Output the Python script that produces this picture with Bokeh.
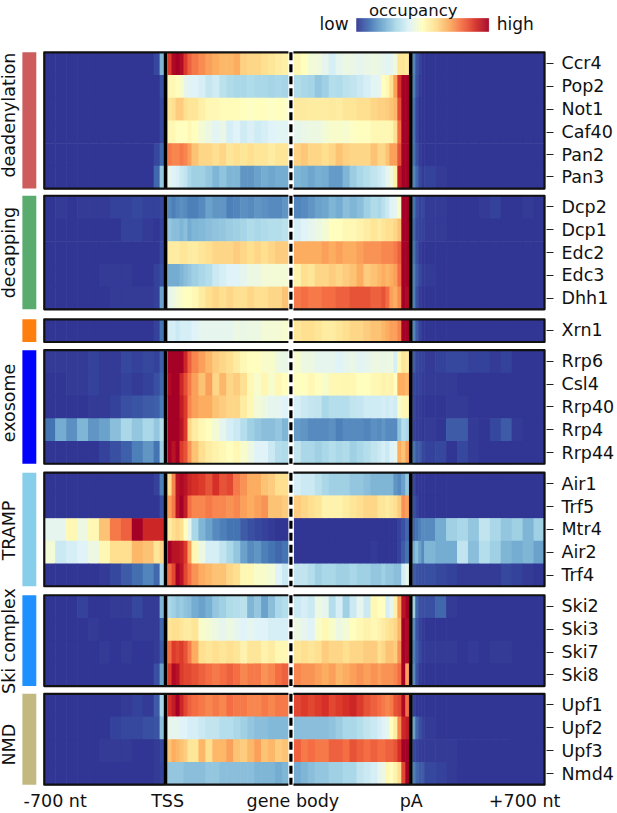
import numpy as np
from bokeh.core.properties import value
from bokeh.embed import file_html
from bokeh.models import ColumnDataSource, FixedTicker, Range1d
from bokeh.plotting import figure
from bokeh.resources import INLINE
from bokeh.transform import linear_cmap

# occupancy per row: left flank, TSS side, pA side, right flank (0 low .. 100 high)
Ccr4 = ([0,0,0,0,0,0,0,0,0,0,3,22],[88,98,100,97,88,82,78,75,72,70,68,68,70,63,62,62,60,58,56,55],[53,50,46,45,42,38,42,44,43,42,43,44,43,42,41,42,45,58,58,57],[13,5,2])
Pop2 = ([0,0,0,0,0,0,0,0,0,0,0,4],[52,52,50,48,42,41,40,38,35,37,33,31,30,30,31,30,30,29,30,29],[31,30,29,26,28,32,31,33,34,36,38,41,42,50,52,60,72,90,100,100],[12,4,1])
Not1 = ([0,0,0,0,0,0,0,0,0,0,0,3],[58,60,64,64,60,58,58,55,52,52,51,51,51,50,49,50,50,49,50,49],[57,57,56,56,56,57,56,58,58,60,60,62,63,63,64,66,68,85,100,100],[10,3])
Caf40 = ([0,0,0,0,0,0,0,0,0,0,0,3],[52,52,50,50,50,52,50,46,44,41,43,38,40,37,39,37,38,40,41,41],[42,43,44,44,46,48,48,47,49,50,50,52,52,52,52,53,60,80,100,100],[10,3])
Pan2 = ([0,0,0,0,0,0,0,0,0,0,3,8],[78,76,76,78,76,72,66,62,62,60,62,58,60,58,60,58,58,56,58,58],[63,65,62,62,60,62,66,63,62,62,62,66,62,62,66,72,72,84,100,100],[10,4,1])
Pan3 = ([0,0,0,0,0,0,0,0,0,0,8,26],[42,40,39,36,34,30,28,28,26,22,25,22,22,16,16,18,20,19,20,20],[22,21,19,21,20,17,17,22,27,30,32,34,36,38,42,45,55,95,100,100],[13,8,3,1,2,1])
Dcp2 = ([0,1,0,1,1,1,2,2,3,2,2,3],[14,12,14,15,14,12,12,14,18,16,16,12,13,15,14,16,15,14,14,16],[13,14,16,18,19,22,20,24,22,24,28,31,30,33,36,40,42,48,100,100],[10,4,2,3,1,1,0,0,0,1,2,0,0,1,0])
Dcp1 = ([0,0,0,0,0,0,0,2,2,1,0,2],[26,24,24,22,24,20,22,23,24,25,26,27,28,29,31,30,31,32,32,33],[38,40,42,44,46,50,50,52,52,54,56,58,56,58,60,60,62,66,100,100],[8,3,2,2,1,1])
Edc2 = ([0,0,0,0,0,0,0,0,0,0,0,3],[56,56,56,58,58,56,56,58,60,62,62,62,64,62,60,62,60,62,64,64],[70,70,70,70,72,70,72,70,70,72,74,74,74,76,76,76,78,82,100,100],[10,4,1])
Edc3 = ([0,0,0,0,0,1,1,1,0,0,2,4],[20,20,20,22,24,26,28,30,32,36,38,40,40,42,44,44,46,46,46,46],[54,60,58,62,62,64,62,64,66,70,64,66,68,70,68,70,72,80,100,100],[12,6,3,1,1])
Dhh1 = ([0,0,0,0,0,0,1,1,1,1,2,18],[42,44,46,48,50,50,52,56,60,62,60,62,60,60,62,60,60,62,62,66],[78,80,78,78,80,80,82,82,84,84,84,82,82,84,80,72,70,75,100,98],[12,4,1])
Xrn1 = ([0,0,0,0,0,0,0,0,0,0,2,10],[38,38,36,38,38,38,40,42,42,42,42,42,44,43,44,44,46,46,46,47],[58,60,60,58,56,56,58,60,62,62,64,66,66,68,70,72,72,76,100,100],[13,6,2])
Rrp6 = ([1,1,1,1,2,1,1,3,2,3,2,7],[100,100,100,100,92,82,76,72,68,64,62,60,56,52,50,50,48,48,44,43],[47,44,44,42,42,42,40,42,43,41,42,44,44,43,44,44,38,52,58,56],[6,3,2,2,1,2,3,3,2,2,1,2])
Csl4 = ([0,0,1,1,2,1,1,2,1,2,4,8],[98,100,100,92,85,78,72,66,72,62,68,62,64,60,52,48,53,48,52,50],[50,50,52,50,48,52,52,53,52,50,50,52,52,54,53,54,50,70,70,68],[3,2,2,1,1,1,1])
Rrp40 = ([0,0,0,0,1,1,2,4,5,6,7,11],[100,100,100,94,88,76,72,70,70,66,64,62,62,56,52,46,44,42,42,40],[38,36,35,34,30,32,32,32,34,35,37,37,37,38,37,38,37,48,52,52],[3,1,1,0,0,0,1,1])
Rrp4 = ([10,20,15,22,16,18,24,30,26,30,26,32],[100,100,100,96,88,62,56,52,50,46,42,38,36,32,28,26,24,24,26,22],[17,16,14,14,14,15,12,14,14,14,13,15,14,16,14,14,14,25,32,30],[2,1,1,0,1,0,6,6,1,0,3,6,1,0,0])
Rrp44 = ([0,0,0,0,0,2,4,7,12,16,10,28],[100,96,100,88,84,74,66,60,56,54,52,50,52,48,44,40,40,36,32,31],[34,30,30,28,30,32,30,31,28,30,32,34,36,38,36,40,42,70,66,72],[10,6,6,3,2,3,0,3,1])
Air1 = ([0,0,0,0,0,0,0,0,0,0,2,12],[60,76,96,98,96,92,90,88,84,90,84,86,78,74,70,70,66,64,60,60],[38,36,36,33,30,28,28,28,26,26,24,22,22,22,22,22,16,14,18,26],[3])
Trf5 = ([0,0,0,0,0,0,0,0,0,0,0,4],[72,78,96,100,94,80,76,76,78,76,76,74,76,72,70,72,74,66,66,64],[64,62,60,58,54,54,54,56,58,60,62,62,58,58,56,58,60,64,74,72],[4,2])
Mtr4 = ([42,42,52,44,52,66,78,82,100,92,92,92],[56,60,62,60,50,42,30,22,18,14,12,10,10,6,4,3,2,1,0,0],[0,0,0,0,0,0,0,0,0,0,0,0,0,0,0,0,0,2,4,8],[8,10,12,14,14,20,28,30,26,34,30,26,28,22,28])
Air2 = ([46,36,38,40,44,52,60,60,68,66,58,62],[100,96,96,94,88,72,52,44,38,38,34,30,26,18,14,16,12,10,8,10],[0,0,0,0,0,0,0,0,0,0,0,1,0,0,0,0,0,2,6,10],[20,24,18,14,22,20,20,34,24,32,28,22,20,22,18])
Trf4 = ([0,0,0,0,0,1,3,6,9,13,8,30],[80,86,100,96,86,80,74,70,68,66,66,62,60,52,52,48,48,46,40,36],[34,34,32,28,30,30,28,28,30,28,28,26,26,28,26,26,24,24,38,42],[6,5,4,4,4,3,2,1,1,1,1,3,2,1,0])
Ski2 = ([0,0,0,2,0,0,1,1,3,1,1,22],[30,28,26,27,25,24,20,18,21,26,28,31,32,33,22,26,18,24,30,32],[36,38,36,44,42,32,38,28,36,42,36,52,50,50,38,42,55,72,96,100],[28,8,4,4,4,8,1])
Ski3 = ([0,0,0,0,1,0,0,0,1,1,1,8],[58,60,60,58,56,56,58,48,46,44,42,44,42,40,42,40,40,38,38,38],[44,42,40,48,52,48,44,46,50,52,54,52,54,56,58,60,62,68,100,98],[14,5,2,1])
Ski7 = ([0,0,0,0,0,1,0,1,0,0,1,6],[80,88,86,88,84,78,70,60,58,60,58,60,58,54,58,58,54,56,52,52],[58,60,58,60,64,62,62,60,62,62,64,64,60,62,66,66,64,74,100,98],[12,6,3,1,1,1,1,0,1,0,1,1])
Ski8 = ([0,0,0,0,0,0,0,0,0,0,4,18],[88,98,96,88,86,86,84,82,80,78,80,82,80,76,78,78,74,76,80,82],[76,74,74,72,70,72,68,70,72,74,72,74,72,74,74,74,76,80,100,72],[14,5,1])
Upf1 = ([0,0,0,0,0,0,0,1,2,1,6,30],[90,94,100,92,86,82,80,78,76,78,76,80,78,78,76,76,78,76,78,78],[86,88,86,88,90,86,88,90,92,88,84,82,80,78,76,78,84,86,98,80],[2])
Upf2 = ([0,0,0,0,0,0,2,3,3,4,5,24],[42,42,42,40,40,38,38,36,34,34,32,32,30,28,26,24,24,23,23,23],[24,24,24,24,24,25,27,30,30,32,34,36,38,40,42,50,56,75,92,94],[18,8,4,2,1])
Upf3 = ([0,0,0,0,0,1,1,1,0,0,1,3],[66,70,68,66,64,58,58,68,60,68,68,72,66,64,68,72,66,68,64,66],[82,78,80,78,78,82,82,80,84,82,80,82,80,80,82,82,84,90,100,100],[3,2,1,1,1,1,1])
Nmd4 = ([0,0,0,0,0,0,0,0,0,0,1,2],[26,26,26,26,24,24,24,24,26,26,24,24,24,24,24,22,22,22,20,22],[20,22,24,26,26,28,28,30,30,34,36,38,42,44,52,50,54,60,86,100],[12,8,6,6,3,2,1])

groups = ["deadenylation", "decapping", "", "exosome", "TRAMP", "Ski complex", "NMD"]
group_colors = ["#cd5c5c", "#5aab6e", "#ff7f0e", "#0000ff", "#87ceeb", "#1e90ff", "#c2b880"]
group_rows = [["Ccr4", "Pop2", "Not1", "Caf40", "Pan2", "Pan3"], ["Dcp2", "Dcp1", "Edc2", "Edc3", "Dhh1"], ["Xrn1"],
              ["Rrp6", "Csl4", "Rrp40", "Rrp4", "Rrp44"], ["Air1", "Trf5", "Mtr4", "Air2", "Trf4"],
              ["Ski2", "Ski3", "Ski7", "Ski8"], ["Upf1", "Upf2", "Upf3", "Nmd4"]]
row_data = dict(Ccr4=Ccr4, Pop2=Pop2, Not1=Not1, Caf40=Caf40, Pan2=Pan2, Pan3=Pan3, Dcp2=Dcp2, Dcp1=Dcp1, Edc2=Edc2,
                Edc3=Edc3, Dhh1=Dhh1, Xrn1=Xrn1, Rrp6=Rrp6, Csl4=Csl4, Rrp40=Rrp40, Rrp4=Rrp4, Rrp44=Rrp44, Air1=Air1,
                Trf5=Trf5, Mtr4=Mtr4, Air2=Air2, Trf4=Trf4, Ski2=Ski2, Ski3=Ski3, Ski7=Ski7, Ski8=Ski8, Upf1=Upf1,
                Upf2=Upf2, Upf3=Upf3, Nmd4=Nmd4)
x_labels = ["-700 nt", "TSS", "gene body", "pA", "+700 nt"]

# ---- layout (figure x and y run in page pixels) ----
group_tops = [52, 196, 320, 351, 474, 597, 696]
group_text_y = [115, 253, None, 404, 532, 643, 747]
ROW_H = 22.8
seg_starts = [44, 168, 295, 414]
seg_widths = [[11] * 10 + [6, 4], [4] * 6 + [7] * 14, [7] * 12 + [4] * 8, [3] * 4 + [11] * 11]
X_TICKS = [55, 168, 294, 413, 527]
FONT = "DejaVu Sans"
FS = "17.5px"

stops = ["#313695", "#4575b4", "#74add1", "#abd9e9", "#e0f3f8", "#ffffbf", "#fee090", "#fdae61", "#f46d43", "#d73027", "#a50026"]
rgb = np.array([[int(c[i:i + 2], 16) for i in (1, 3, 5)] for c in stops], float)
pos = np.linspace(0, 1, 256)
palette = ["#%02x%02x%02x" % tuple(int(round(np.interp(t, np.linspace(0, 1, 11), rgb[:, k]))) for k in range(3)) for t in pos]

p = figure(width=617, height=813, output_backend="svg", toolbar_location=None, x_range=Range1d(0, 549),
           y_range=Range1d(792, 0), y_axis_location="right", min_border_left=0, min_border_right=68,
           min_border_top=0, min_border_bottom=21, outline_line_color=None, margin=(0, 0, 0, 0))
p.grid.visible = False

cells = dict(left=[], right=[], top=[], bottom=[], v=[])
ticks, overrides = [], {}
panels = []
for top, names in zip(group_tops, group_rows):
    for i, name in enumerate(names):
        y0, y1 = top + i * ROW_H, top + (i + 1) * ROW_H
        c = round((y0 + y1) / 2)
        ticks.append(c)
        overrides[c] = name
        for start, widths, vals in zip(seg_starts, seg_widths, row_data[name]):
            edges = start + np.cumsum([0] + widths)
            vals = list(vals) + [0] * (len(widths) - len(vals))
            for a, b, v in zip(edges[:-1], edges[1:], vals):
                cells["left"].append(float(a)); cells["right"].append(float(b) + 0.6)
                cells["top"].append(y0); cells["bottom"].append(y1 + 0.6); cells["v"].append(v)
    panels.append((top, top + len(names) * ROW_H))

cm = linear_cmap("v", palette, 0, 100)
p.quad(left="left", right="right", top="top", bottom="bottom", source=ColumnDataSource(cells),
       fill_color=cm, line_color=None)

tops = [a for a, b in panels]
bots = [b for a, b in panels]
n = len(panels)
# side bars
p.quad(left=[22] * n, right=[36] * n, top=tops, bottom=bots, fill_color=group_colors, line_color=None)
# TSS and pA lines
p.segment(x0=[166] * n, x1=[166] * n, y0=tops, y1=bots, line_color="black", line_width=3.6)
p.segment(x0=[412.5] * n, x1=[412.5] * n, y0=tops, y1=bots, line_color="black", line_width=3.6)
# frames
p.quad(left=[44] * n, right=[547] * n, top=tops, bottom=bots, fill_color=None, line_color="#111111", line_width=2.2, line_join="round")
# gap in the gene body with dashes
p.quad(left=[289.5] * n, right=[294.5] * n, top=[t - 2 for t in tops], bottom=[b + 2 for b in bots], fill_color="white", line_color=None)
p.segment(x0=[292] * n, x1=[292] * n, y0=tops, y1=bots, line_color="black", line_width=3.2, line_dash="8 4")

# group labels
gx, gy, gt = [], [], []
for t, y in zip(groups, group_text_y):
    if t:
        gx.append(9); gy.append(y); gt.append(t)
p.text(x=gx, y=gy, text=gt, angle=np.pi / 2, text_align="center", text_baseline="middle",
       text_font=value(FONT), text_font_size=FS, text_color="#111111")

# colour key
key_edges = np.linspace(358, 491, 257)
p.quad(left=key_edges[:-1], right=key_edges[1:], top=[18] * 256, bottom=[31] * 256, fill_color=palette, line_color=palette, line_width=0.3)
p.text(x=[350, 499], y=[24, 24], text=["low", "high"], text_align=["right", "left"], text_baseline="middle",
       text_font=value(FONT), text_font_size="17px", text_color="#111111")
p.text(x=[415], y=[10], text=["occupancy"], text_align="center", text_baseline="middle",
       text_font=value(FONT), text_font_size="16.5px", text_color="#111111")

ya = p.yaxis[0]
ya.ticker = FixedTicker(ticks=ticks)
ya.major_label_overrides = overrides
ya.axis_line_color = None
ya.major_tick_in = 0
ya.major_tick_out = 7
ya.minor_tick_line_color = None
ya.major_tick_line_color = "#222222"
ya.major_label_standoff = 8
ya.major_label_text_font = FONT
ya.major_label_text_font_size = FS
ya.major_label_text_color = "#111111"

xa = p.xaxis[0]
xa.ticker = FixedTicker(ticks=X_TICKS)
xa.major_label_overrides = dict(zip(X_TICKS, x_labels))
xa.axis_line_color = None
xa.major_tick_in = 0
xa.major_tick_out = 0
xa.major_tick_line_color = None
xa.minor_tick_line_color = None
xa.major_label_standoff = 1
xa.major_label_text_font = FONT
xa.major_label_text_font_size = FS
xa.major_label_text_color = "#111111"

open("out.html", "w").write(file_html(p, INLINE))
